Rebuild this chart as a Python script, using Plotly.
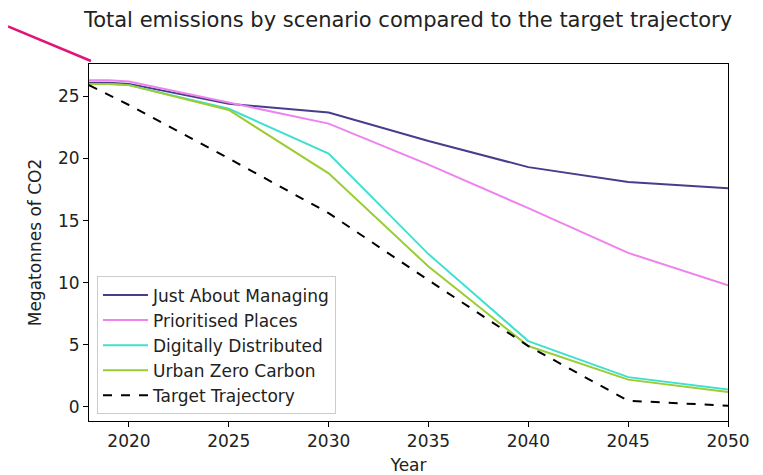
import plotly.graph_objects as go

years = [2018, 2019, 2020, 2025, 2030, 2035, 2040, 2045, 2050]
just_about_managing = [26.1, 26.1, 26.0, 24.4, 23.7, 21.4, 19.3, 18.1, 17.6]
prioritised_places = [26.3, 26.3, 26.2, 24.5, 22.8, 19.5, 16.0, 12.4, 9.8]
digitally_distributed = [26.0, 26.0, 25.9, 24.0, 20.4, 12.3, 5.3, 2.4, 1.4]
urban_zero_carbon = [26.0, 26.0, 25.9, 23.9, 18.8, 11.3, 4.9, 2.2, 1.2]
target_trajectory = [25.9, 25.1, 24.3, 20.0, 15.6, 10.2, 4.9, 0.5, 0.1]

series = [
    ("Just About Managing", just_about_managing, "#483D8B", "solid"),
    ("Prioritised Places", prioritised_places, "#EE82EE", "solid"),
    ("Digitally Distributed", digitally_distributed, "#40E0D0", "solid"),
    ("Urban Zero Carbon", urban_zero_carbon, "#9ACD32", "solid"),
    ("Target Trajectory", target_trajectory, "#000000", "dash"),
]

fig = go.Figure()
for name, vals, color, dash in series:
    fig.add_trace(go.Scatter(x=years, y=vals, mode="lines", name=name,
                             line=dict(color=color, width=2, dash=dash)))

font_family = "DejaVu Sans"
W, H = 755, 467
fig.update_layout(
    width=W, height=H,
    margin=dict(l=81, r=35, t=56, b=54),
    paper_bgcolor="white", plot_bgcolor="white",
    font=dict(family=font_family, size=17, color="#222222"),
    title=dict(text="Total emissions by scenario compared to the target trajectory",
               x=400 / W, xanchor="center", y=1 - 12 / H, yanchor="middle",
               font=dict(size=21, family=font_family, color="#222222")),
    showlegend=True,
    legend=dict(x=0.0125, y=0.405, xanchor="left", yanchor="top",
                bgcolor="rgba(255,255,255,0.8)", bordercolor="#cccccc", borderwidth=1,
                font=dict(size=17, family=font_family), tracegroupgap=0, itemwidth=45),
    xaxis=dict(range=[2018, 2050], tickvals=[2020, 2025, 2030, 2035, 2040, 2045, 2050],
               showgrid=False, zeroline=False, showline=True, linecolor="black", linewidth=1,
               mirror=True, ticks="outside", ticklen=5, tickcolor="black",
               tickfont=dict(size=17), automargin=False,
               title=dict(text="Year", standoff=9, font=dict(size=17))),
    yaxis=dict(range=[-1.13, 27.6], tickvals=[0, 5, 10, 15, 20, 25],
               showgrid=False, zeroline=False, showline=True, linecolor="black", linewidth=1,
               mirror=True, ticks="outside", ticklen=5, tickcolor="black",
               tickfont=dict(size=17), automargin=False,
               title=dict(text="Megatonnes of CO2", standoff=12, font=dict(size=17))),
)

fig.add_shape(type="line", xref="x domain", yref="y domain",
              x0=(8 - 89) / 639, y0=(421 - 26.3) / 357, x1=2 / 639, y1=(421 - 61) / 357,
              line=dict(color="#E0157A", width=2.5))

fig.write_html("out.html")
